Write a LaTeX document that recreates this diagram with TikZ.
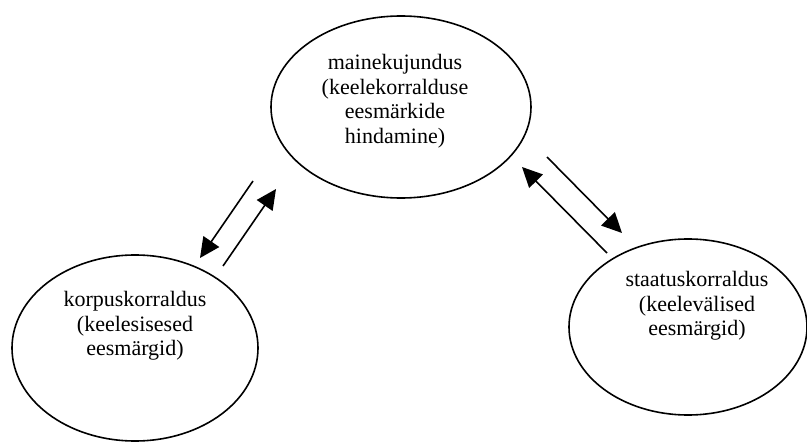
\documentclass[tikz,border=0pt]{standalone}
\usepackage{fontspec}
\setmainfont{Liberation Serif}
\usetikzlibrary{shapes.geometric,arrows.meta}
\tikzset{
  oval/.style={draw, ellipse, line width=1.6pt, inner sep=0pt},
  ovaltext/.style={align=center, inner sep=0pt, font=\fontsize{22}{24.5}\selectfont},
  flow/.style={-{Triangle[length=20pt,width=19pt]}, line width=1.6pt}
}
\begin{document}
\begin{tikzpicture}[x=1pt,y=-1pt]
\useasboundingbox (0,0) rectangle (807,444);
\node [oval, minimum width=260pt, minimum height=182pt] (maine) at (401,107) {};
\node [oval, minimum width=246pt, minimum height=186pt] (korpus) at (135,348) {};
\node [oval, minimum width=238pt, minimum height=176pt] (staatus) at (688,327) {};
\node [ovaltext] (mainetxt) at (395,101) {mainekujundus\\(keelekorralduse\\eesmärkide\\hindamine)};
\node [ovaltext] (korpustxt) at (135,326) {korpuskorraldus\\(keelesisesed\\eesmärgid)};
\node [ovaltext] (staatustxt) at (697,306) {staatuskorraldus\\(keelevälised\\eesmärgid)};
\coordinate (kalla) at (253,181);
\coordinate (kallb) at (200,258);
\coordinate (kulesa) at (223,266);
\coordinate (kulesb) at (276,189);
\coordinate (salla) at (547,157);
\coordinate (sallb) at (622,233);
\coordinate (sulesa) at (607,253);
\coordinate (sulesb) at (522,167);
\draw [flow] (kalla) -- (kallb);
\draw [flow] (kulesa) -- (kulesb);
\draw [flow] (salla) -- (sallb);
\draw [flow] (sulesa) -- (sulesb);
\end{tikzpicture}
\end{document}
